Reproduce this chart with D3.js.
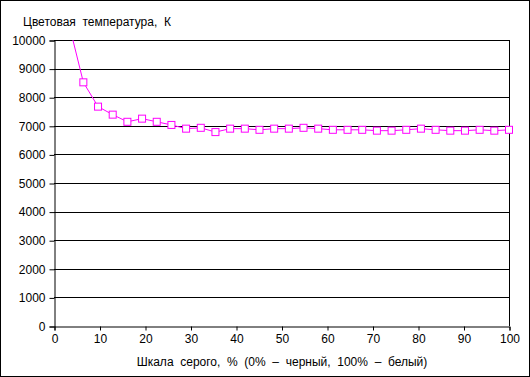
<!DOCTYPE html>
<html>
<head>
<meta charset="utf-8">
<script src="https://cdn.jsdelivr.net/npm/d3@7"></script>
<style>
  body { margin: 0; background: #fff; }
  svg { display: block; font-family: "Liberation Sans", Arial, sans-serif; }
</style>
</head>
<body>
<svg id="chart" width="530" height="377"></svg>
<script>
// grey scale steps (index i -> i*100/31 %), starting at i = 1
let stepIndex = d3.range(1, 32);
let grayPct = stepIndex.map(i => i * 100 / 31);
let colorTemp = [10600, 8520, 7670, 7390, 7140, 7250, 7140, 7030, 6900, 6930,
                 6780, 6900, 6900, 6860, 6900, 6900, 6930, 6900, 6860, 6860,
                 6860, 6830, 6830, 6860, 6900, 6860, 6830, 6830, 6860, 6830, 6860];
let xTicks = [0, 10, 20, 30, 40, 50, 60, 70, 80, 90, 100];
let yTicks = [0, 1000, 2000, 3000, 4000, 5000, 6000, 7000, 8000, 9000, 10000];
let yTitle = "Цветовая  температура,  К";
let xTitle = "Шкала  серого,  %  (0%  –  черный,  100%  –  белый)";

let data = grayPct.map((g, i) => ({x: g, y: colorTemp[i]}));

let svg = d3.select("#chart");
let width = 530, height = 377;
let margin = {left: 54, right: 21, top: 40, bottom: 51};

svg.append("rect")
  .attr("x", 0.5).attr("y", 0.5)
  .attr("width", width - 1).attr("height", height - 1)
  .attr("fill", "#fff").attr("stroke", "#000");

let x = d3.scaleLinear().domain([0, 100]).range([margin.left, width - margin.right]);
let y = d3.scaleLinear().domain([0, 10000]).range([height - margin.bottom, margin.top]);

// grid
svg.append("g").selectAll("line")
  .data(yTicks.filter(d => d > 0))
  .join("line")
    .attr("x1", x(0)).attr("x2", x(100))
    .attr("y1", d => Math.round(y(d)) + 0.5).attr("y2", d => Math.round(y(d)) + 0.5)
    .attr("stroke", "#000");

// right border of plot
svg.append("line")
  .attr("x1", Math.round(x(100)) + 0.5).attr("x2", Math.round(x(100)) + 0.5)
  .attr("y1", y(10000)).attr("y2", y(0))
  .attr("stroke", "#000");

let axisY = svg.append("g")
  .attr("transform", `translate(${Math.round(x(0)) + 0.5},0.5)`)
  .call(d3.axisLeft(y).tickValues(yTicks).tickSize(5).tickPadding(4).tickFormat(d3.format("d")));

let axisX = svg.append("g")
  .attr("transform", `translate(0.5,${Math.round(y(0)) + 0.5})`)
  .call(d3.axisBottom(x).tickValues(xTicks).tickSize(4).tickPadding(4).tickFormat(d3.format("d")));

[axisX, axisY].forEach(a => {
  a.select(".domain").attr("stroke", "#000");
  a.selectAll(".tick line").attr("stroke", "#000");
  a.selectAll("text").attr("fill", "#000").style("font-size", "12px")
    .style("font-family", "'Liberation Sans', Arial, sans-serif");
});

// clip the series to the plot area
svg.append("clipPath").attr("id", "plotClip")
  .append("rect")
    .attr("x", x(0)).attr("y", y(10000))
    .attr("width", x(100) - x(0) + 1).attr("height", y(0) - y(10000));

let mainG = svg.append("g").attr("clip-path", "url(#plotClip)");

let line = d3.line().x(d => x(d.x)).y(d => y(d.y));
mainG.append("path")
  .datum(data)
  .attr("fill", "none")
  .attr("stroke", "#ff00ff")
  .attr("stroke-width", 1)
  .attr("d", line);

svg.append("g").selectAll("rect")
  .data(data.filter(d => d.y <= 10000))
  .join("rect")
    .attr("x", d => x(d.x) - 3.5)
    .attr("y", d => y(d.y) - 3.5)
    .attr("width", 7).attr("height", 7)
    .attr("fill", "#fff")
    .attr("stroke", "#ff00ff")
    .attr("stroke-width", 1);

svg.append("text")
  .attr("x", 23).attr("y", 26)
  .style("font-size", "12px")
  .style("white-space", "pre")
  .text(yTitle);

svg.append("text")
  .attr("x", 282).attr("y", 366)
  .attr("text-anchor", "middle")
  .style("font-size", "12px")
  .style("white-space", "pre")
  .text(xTitle);
</script>
</body>
</html>
